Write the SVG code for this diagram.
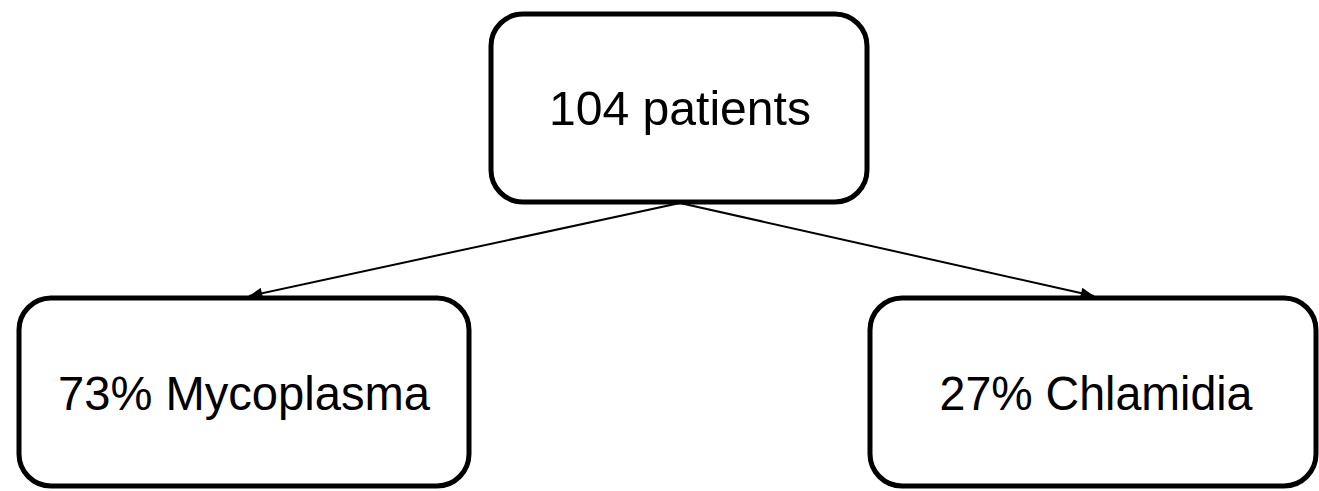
<svg xmlns="http://www.w3.org/2000/svg" width="1319" height="491" viewBox="0 0 1319 491">
<style>
.box{fill:#fff;stroke:#000;stroke-width:5}
.lbl{font-family:"Liberation Sans",Arial,sans-serif;font-size:48px;fill:#000;text-anchor:middle}
.conn{stroke:#000;stroke-width:2;fill:none}
</style>
<defs>
<marker id="ah" viewBox="0 0 10 10" refX="10" refY="5" markerWidth="6" markerHeight="6" markerUnits="userSpaceOnUse" orient="auto">
<path d="M0,0 L10,5 L0,10 z" fill="#000"/>
</marker>
<marker id="arr" viewBox="0 0 12 10" refX="12" refY="5" markerWidth="14" markerHeight="11" markerUnits="userSpaceOnUse" orient="auto">
<path d="M0,0 L12,5 L0,10 z" fill="#000"/>
</marker>
</defs>
<rect width="1319" height="491" fill="#fff"/>
<g id="connectors">
<line class="conn" x1="680" y1="203" x2="249" y2="296" marker-end="url(#arr)"/>
<line class="conn" x1="680" y1="203" x2="1094" y2="296" marker-end="url(#arr)"/>
</g>
<g id="node-patients">
<rect class="box" x="491" y="14" width="376" height="188" rx="32"/>
<text class="lbl" x="680" y="125" textLength="262" lengthAdjust="spacingAndGlyphs">104 patients</text>
</g>
<g id="node-mycoplasma">
<rect class="box" x="19" y="298" width="450" height="188" rx="32"/>
<text class="lbl" x="244" y="410" textLength="372" lengthAdjust="spacingAndGlyphs">73% Mycoplasma</text>
</g>
<g id="node-chlamidia">
<rect class="box" x="870" y="298" width="446" height="188" rx="32"/>
<text class="lbl" x="1096" y="410" textLength="313" lengthAdjust="spacingAndGlyphs">27% Chlamidia</text>
</g>
</svg>
